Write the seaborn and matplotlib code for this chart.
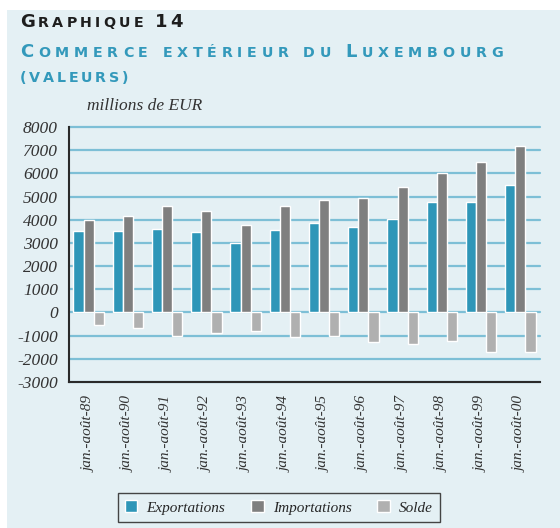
import numpy as np
import pandas as pd
import matplotlib
matplotlib.use("Agg")
import matplotlib.pyplot as plt
import seaborn as sns

# --- DONNÉES ---
periodes = ["jan.-août-89", "jan.-août-90", "jan.-août-91", "jan.-août-92",
            "jan.-août-93", "jan.-août-94", "jan.-août-95", "jan.-août-96",
            "jan.-août-97", "jan.-août-98", "jan.-août-99", "jan.-août-00"]
exportations = [3500, 3500, 3580, 3450, 3010, 3540, 3840, 3670, 4015, 4750, 4750, 5480]
importations = [4000, 4140, 4575, 4360, 3755, 4575, 4835, 4920, 5395, 6000, 6475, 7165]
solde = [-520, -690, -1005, -905, -820, -1080, -1035, -1295, -1380, -1250, -1725, -1685]
series = ["Exportations", "Importations", "Solde"]
couleurs = ["#2E96B8", "#7F7F7F", "#B0B0B0"]
y_ticks = list(range(-3000, 8001, 1000))

BG = "#E4F0F4"
GRID = "#7DBFD6"
DARK = "#2A2A2A"
TITLE_BLUE = "#3399BB"

df = pd.DataFrame({
    "periode": periodes * 3,
    "serie": [s for s in series for _ in periodes],
    "valeur": exportations + importations + solde,
})

sns.set_style("white")
plt.rcParams["axes.unicode_minus"] = False

fig = plt.figure(figsize=(5.6, 5.28), dpi=100)
fig.patch.set_facecolor("white")
# panneau bleu clair
fig.patches.append(matplotlib.patches.Rectangle((7 / 560, 0), 1, 1 - 10 / 528,
                                                transform=fig.transFigure,
                                                facecolor=BG, edgecolor="none", zorder=-10))

ax = fig.add_axes([69 / 560, 1 - 382 / 528, (540 - 69) / 560, (382 - 127) / 528])
ax.set_facecolor(BG)

sns.barplot(data=df, x="periode", y="valeur", hue="serie", palette=couleurs,
            hue_order=series, saturation=1, width=0.78, ax=ax, errorbar=None)

ax.set_ylim(-3000, 8000)
ax.set_xlim(-0.5, len(periodes) - 0.5)
ax.set_yticks(y_ticks)
ax.set_yticklabels([str(v) for v in y_ticks], fontfamily="Liberation Serif",
                   fontstyle="italic", fontsize=12.5, color="#333333")
ax.set_xticks(range(len(periodes)))
ax.set_xticklabels(periodes, rotation=90, fontfamily="Liberation Serif",
                   fontstyle="italic", fontsize=11, color="#333333", va="top")
ax.set_xticks(np.arange(-0.5, len(periodes), 1), minor=True)
ax.tick_params(axis="x", which="major", length=0, pad=10)
ax.tick_params(axis="x", which="minor", length=6, width=1.2, color=DARK, direction="out")
ax.tick_params(axis="y", length=5, width=1.2, color=DARK, direction="out", pad=3)
ax.set_xlabel("")
ax.set_ylabel("")

ax.set_axisbelow(True)
ax.yaxis.grid(True, color=GRID, linewidth=1.6)
for gl in ax.get_ygridlines():
    gl.set_clip_on(False)
for s in ["top", "right"]:
    ax.spines[s].set_visible(False)
for s in ["left", "bottom"]:
    ax.spines[s].set_color(DARK)
    ax.spines[s].set_linewidth(1.5)

handles, labels = ax.get_legend_handles_labels()
ax.get_legend().remove()
leg = fig.legend(handles, labels, loc="center", bbox_to_anchor=(279 / 560, 1 - 507.5 / 528),
                 ncol=3, frameon=True, fancybox=False, edgecolor="#444444",
                 facecolor=BG, framealpha=1, handlelength=0.8, handleheight=0.8,
                 columnspacing=1.7, handletextpad=0.6, borderpad=0.5,
                 prop={"family": "Liberation Serif", "style": "italic", "size": 11})
leg.get_frame().set_linewidth(1.0)

fig.text(87 / 560, 1 - 110 / 528, "millions de EUR", fontfamily="Liberation Serif",
         fontstyle="italic", fontsize=12.5, color="#333333", va="baseline", ha="left")

# titres en petites capitales, lettre par lettre, étirés jusqu'à la largeur voulue
renderer = fig.canvas.get_renderer()


def petites_capitales(texte, x, y, x_fin, couleur, grand=13, petit=10.3, espace=5):
    y_px = 528 - y
    lettres = []
    for ch in texte:
        if ch == " ":
            lettres.append(None)
            continue
        taille = grand if (ch.isupper() or ch.isdigit()) else petit
        t = fig.text(0, y_px, ch.upper(), fontsize=taille, fontweight="bold",
                     fontfamily="DejaVu Sans", color=couleur, va="baseline",
                     ha="left", transform=None)
        lettres.append((t, t.get_window_extent(renderer).width))
    naturel = sum(l[1] for l in lettres if l) + espace * lettres.count(None)
    pas = (x_fin - x - naturel) / max(len(lettres) - 1, 1)
    x_px = x
    for l in lettres:
        if l is None:
            x_px += espace + pas
            continue
        l[0].set_x(x_px)
        x_px += l[1] + pas


petites_capitales("Graphique 14", 20, 27, 183, "#1E1E1E")
petites_capitales("Commerce extérieur du Luxembourg", 20, 57, 503, TITLE_BLUE)
petites_capitales("(valeurs)", 20, 82, 128, TITLE_BLUE)

fig.savefig("out.png", dpi=100, facecolor=fig.get_facecolor())
